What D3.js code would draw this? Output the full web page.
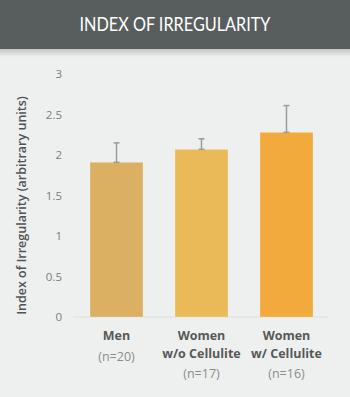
<!DOCTYPE html>
<html>
<head>
<meta charset="utf-8">
<script src="https://cdn.jsdelivr.net/npm/d3@7"></script>
<style>
	body { margin: 0; background: #eef0ef; }
	svg { display: block; }
</style>
</head>
<body>
<div id="chart"></div>
<script>
const groups = ["Men", "Women w/o Cellulite", "Women w/ Cellulite"];
const labelLines = [["Men"], ["Women", "w/o Cellulite"], ["Women", "w/ Cellulite"]];
const sampleSizes = ["(n=20)", "(n=17)", "(n=16)"];
const means = [1.91, 2.07, 2.28];
const errorTops = [2.15, 2.20, 2.61];
const yTicks = [0, 0.5, 1, 1.5, 2, 2.5, 3];
const barColors = ["#dcb062", "#ebba58", "#f3aa3c"];

const width = 350, height = 397;
const plot = {left: 80, right: 328, top: 74, bottom: 317};

const svg = d3.select("#chart").append("svg")
	.attr("width", width)
	.attr("height", height);

// header with shadow
const defs = svg.append("defs");
const grad = defs.append("linearGradient")
	.attr("id", "shadow")
	.attr("x1", 0).attr("x2", 0).attr("y1", 0).attr("y2", 1);
grad.append("stop").attr("offset", "0%").attr("stop-color", "#c4c6c5");
grad.append("stop").attr("offset", "100%").attr("stop-color", "#eef0ef");

svg.append("rect")
	.attr("x", 0).attr("y", 49)
	.attr("width", width).attr("height", 8)
	.attr("fill", "url(#shadow)");

svg.append("rect")
	.attr("x", 0).attr("y", 0)
	.attr("width", width).attr("height", 49)
	.attr("fill", "#585e5d");

svg.append("text")
	.attr("x", 175).attr("y", 31)
	.attr("text-anchor", "middle")
	.attr("fill", "#ffffff")
	.attr("textLength", 191)
	.attr("lengthAdjust", "spacingAndGlyphs")
	.style("font-family", "Lato, 'Open Sans', sans-serif")
	.style("font-size", "18.5px")
	.text("INDEX OF IRREGULARITY");

let x = d3.scaleBand()
	.domain(groups)
	.range([90, 313])
	.paddingInner(0.376)
	.paddingOuter(0);

let y = d3.scaleLinear()
	.domain([0, 3])
	.range([plot.bottom, plot.top]);

// baseline
svg.append("line")
	.attr("x1", 73).attr("x2", plot.right)
	.attr("y1", y(0)).attr("y2", y(0))
	.style("stroke", "#dcdedd")
	.style("stroke-width", 1);

// y axis labels
let yAxis = d3.axisLeft(y)
	.tickValues(yTicks)
	.tickFormat(d3.format("~g"))
	.tickSize(0)
	.tickPadding(0);

let yG = svg.append("g")
	.attr("transform", "translate(62,0)")
	.call(yAxis);
yG.select(".domain").remove();
yG.selectAll("text")
	.style("font-family", "'Open Sans', sans-serif")
	.style("font-size", "11.5px")
	.style("fill", "#7a7c7b");

svg.append("text")
	.attr("transform", "translate(26," + ((plot.top + plot.bottom) / 2 + 10) + ") rotate(-90)")
	.attr("text-anchor", "middle")
	.style("font-family", "'Open Sans', sans-serif")
	.style("font-size", "12.5px")
	.style("font-weight", "600")
	.style("fill", "#505352")
	.text("Index of Irregularity (arbitrary units)");

// bars
svg.selectAll("rect.bar")
	.data(groups)
	.enter().append("rect")
	.attr("class", "bar")
	.attr("x", d => x(d))
	.attr("width", x.bandwidth())
	.attr("y", (d, i) => y(means[i]))
	.attr("height", (d, i) => y(0) - y(means[i]))
	.attr("fill", (d, i) => barColors[i])
	.style("stroke", "rgba(255,255,255,0.25)")
	.style("stroke-width", 1);

// error bars (upper only)
let err = svg.selectAll("g.err")
	.data(groups)
	.enter().append("g")
	.attr("class", "err")
	.style("stroke", "#9a9c9b");

err.append("line")
	.attr("x1", d => x(d) + x.bandwidth() / 2)
	.attr("x2", d => x(d) + x.bandwidth() / 2)
	.attr("y1", (d, i) => y(means[i]))
	.attr("y2", (d, i) => y(errorTops[i]))
	.style("stroke-width", 1.5);

err.append("line")
	.attr("x1", d => x(d) + x.bandwidth() / 2 - 3)
	.attr("x2", d => x(d) + x.bandwidth() / 2 + 3)
	.attr("y1", (d, i) => y(errorTops[i]))
	.attr("y2", (d, i) => y(errorTops[i]))
	.style("stroke-width", 1.5);

err.append("line")
	.attr("x1", d => x(d) + x.bandwidth() / 2 - 3)
	.attr("x2", d => x(d) + x.bandwidth() / 2 + 3)
	.attr("y1", (d, i) => y(means[i]))
	.attr("y2", (d, i) => y(means[i]))
	.style("stroke-width", 1.5);

// category labels
let cat = svg.selectAll("text.cat")
	.data(groups)
	.enter().append("text")
	.attr("class", "cat")
	.attr("text-anchor", "middle")
	.attr("x", d => x(d) + x.bandwidth() / 2)
	.attr("y", 340)
	.style("font-family", "'Open Sans', sans-serif");

cat.each(function(d, i) {
	let t = d3.select(this);
	labelLines[i].forEach((line, j) => {
		t.append("tspan")
			.attr("x", x(d) + x.bandwidth() / 2)
			.attr("dy", j === 0 ? 0 : 18)
			.style("font-size", "12.5px")
			.style("font-weight", "bold")
			.style("fill", "#575958")
			.text(line);
	});
	t.append("tspan")
		.attr("x", x(d) + x.bandwidth() / 2)
		.attr("dy", labelLines[i].length === 1 ? 21 : 20)
		.style("font-size", "12.5px")
		.style("fill", "#8a8c8b")
		.text(sampleSizes[i]);
});
</script>
</body>
</html>
